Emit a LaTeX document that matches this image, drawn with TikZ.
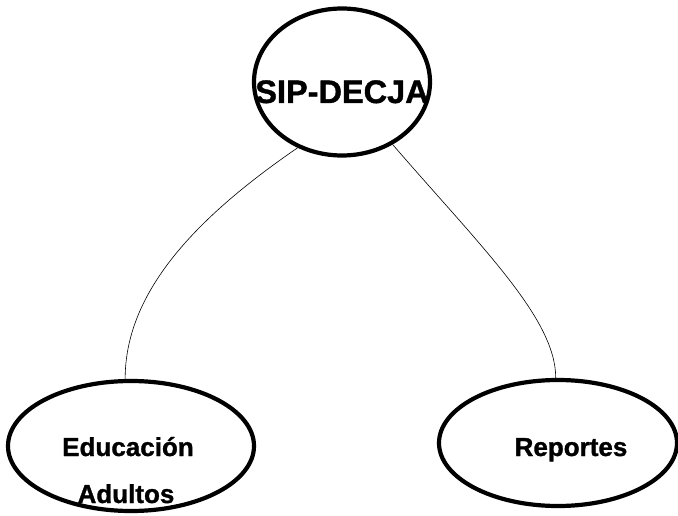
\documentclass[tikz,border=0pt]{standalone}
\usepackage{fontspec}
\setmainfont{Liberation Sans}[BoldFeatures={FakeBold=1.2}]
\usetikzlibrary{shapes.geometric}
\begin{document}
\begin{tikzpicture}[x=1pt,y=-1pt,
  oval/.style={ellipse,draw=black,line width=4.2pt,inner sep=0pt},
  lbl/.style={font=\bfseries\fontsize{26}{47}\selectfont,align=center,inner sep=0pt},
  link/.style={draw=black,line width=0.6pt}]
\useasboundingbox (0,0) rectangle (678,516);
\node[oval,minimum width=176pt,minimum height=147pt] (top) at (342,82) {};
\node[oval,minimum width=246pt,minimum height=130pt] (ea) at (131,446) {};
\node[oval,minimum width=238pt,minimum height=126pt] (rep) at (558,443) {};
\node[font=\bfseries\fontsize{32.5}{32.5}\selectfont,inner sep=0pt,anchor=base] (tt) at (342,103) {SIP-DECJA};
\node[lbl,anchor=base] (t1) at (128,456) {Educación};
\node[lbl,anchor=base] (t2) at (126,503) {Adultos};
\node[lbl,anchor=base] (t3) at (571,456) {Reportes};
\draw[link] (top.236) .. controls +(-105,72) and +(0,-85) .. (ea.95);
\draw[link] (top.309) .. controls +(90,104) and +(0,-59) .. (rep.92);
\end{tikzpicture}
\end{document}
